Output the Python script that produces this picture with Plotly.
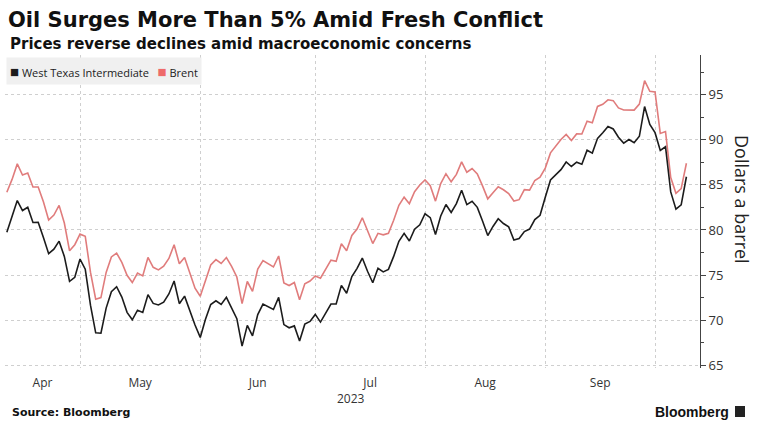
import numpy as np
import pandas as pd
import plotly.graph_objects as go

# ---------------- data ----------------
title = "Oil Surges More Than 5% Amid Fresh Conflict"
subtitle = "Prices reverse declines amid macroeconomic concerns"
source = "Source: Bloomberg"
brand = "Bloomberg"
y_title = "Dollars a barrel"
series_names = ["West Texas Intermediate", "Brent"]

start_date = "2023-04-11"
end_date = "2023-10-10"
missing_days = ["2023-05-30", "2023-06-20", "2023-07-05", "2023-09-05"]

wti = [
    # Apr
    79.74, 81.53, 83.26, 82.16, 82.52, 80.83, 80.86, 79.16, 77.37, 77.87,
    78.76, 77.07, 74.30, 74.76, 76.78,
    # May
    75.66, 71.66, 68.60, 68.56, 71.34, 73.16, 73.71, 72.56, 70.87, 70.04,
    71.11, 70.86, 72.83, 71.86, 71.69, 71.99, 72.91, 74.34, 71.83, 72.67,
    69.46, 68.09,
    # Jun
    70.10, 71.74, 72.15, 71.74, 72.53, 71.29, 70.17, 67.12, 69.42, 68.27,
    70.62, 71.78, 71.19, 72.53, 69.51, 69.16, 69.37, 67.70, 69.56, 69.86,
    70.64,
    # Jul
    69.79, 71.79, 71.80, 73.86, 72.99, 74.83, 75.75, 76.89, 75.42, 74.15,
    75.75, 75.35, 75.63, 77.07, 78.74, 79.63, 78.78, 80.09, 80.58, 81.80,
    # Aug
    81.37, 79.49, 81.55, 82.82, 81.94, 82.92, 84.40, 82.82, 83.19, 82.51,
    80.99, 79.38, 80.39, 81.25, 80.72, 80.35, 78.89, 79.05, 79.83, 80.10,
    81.16, 81.63, 83.63,
    # Sep
    85.55, 86.69, 87.54, 87.04, 87.51, 87.29, 88.84, 88.52, 90.16, 90.77,
    91.48, 91.20, 90.28, 89.63, 90.03, 89.68, 90.39, 93.68, 91.71, 90.79,
    # Oct
    88.82, 89.23, 84.22, 82.31, 82.79, 85.90,
]

brent = [
    # Apr
    84.18, 85.61, 87.33, 86.09, 86.31, 84.76, 84.77, 83.12, 81.10, 81.66,
    82.73, 80.77, 77.69, 78.37, 79.54,
    # May
    79.31, 75.32, 72.33, 72.50, 75.30, 77.01, 77.44, 76.41, 74.98, 74.17,
    75.23, 74.91, 76.96, 75.86, 75.58, 75.99, 76.84, 78.36, 76.26, 76.95,
    73.54, 72.66,
    # Jun
    74.28, 76.13, 76.71, 76.29, 76.95, 75.96, 74.79, 71.84, 74.29, 73.20,
    75.67, 76.61, 75.90, 77.12, 74.14, 73.85, 74.18, 72.26, 74.03, 74.34,
    74.90,
    # Jul
    74.65, 76.65, 76.52, 78.47, 77.69, 79.40, 80.11, 81.36, 79.87, 78.50,
    79.63, 79.46, 79.64, 81.07, 82.74, 83.64, 82.92, 84.24, 84.99, 85.56,
    # Aug
    84.91, 83.20, 85.14, 86.24, 85.34, 86.17, 87.55, 86.40, 86.81, 86.21,
    84.89, 83.45, 84.12, 84.80, 84.46, 84.03, 83.21, 83.36, 84.48, 84.42,
    85.49, 85.86, 86.86,
    # Sep
    88.55, 90.04, 90.60, 89.92, 90.65, 90.64, 92.06, 91.88, 93.70, 93.93,
    94.43, 94.34, 93.53, 93.30, 93.27, 93.29, 93.96, 96.55, 95.38, 95.31,
    # Oct
    90.71, 90.92, 85.81, 84.07, 84.58, 87.40,
]

month_starts = ["2023-05-01", "2023-06-01", "2023-07-01", "2023-08-01",
                "2023-09-01", "2023-10-01"]
month_labels = ["Apr", "May", "Jun", "Jul", "Aug", "Sep"]
year_label = "2023"
y_tick0, y_dtick = 65, 5

# ---------------- styles ----------------
wti_color = "#1c1c1c"
brent_color = "#e07c7c"
brent_key = "#ee6a6a"
grid_color = "#cfcfcf"
text_color = "#333333"

# ---------------- build x (trading-day axis) ----------------
dates = pd.bdate_range(start_date, end_date)
dates = dates[~dates.isin(pd.to_datetime(missing_days))]
base = np.datetime64(start_date, "D")
x = np.busday_count(base, dates.values.astype("datetime64[D]"))
grid_x = np.busday_count(base, np.array(month_starts, dtype="datetime64[D]"))

x_range = [-0.35, 132.6]
edges = [x_range[0]] + list(grid_x)
label_x = [(edges[i] + edges[i + 1]) / 2 for i in range(len(month_labels))]

fig = go.Figure()
fig.add_trace(go.Scatter(x=x, y=brent, mode="lines", name=series_names[1],
                         line=dict(color=brent_color, width=1.6), showlegend=False))
fig.add_trace(go.Scatter(x=x, y=wti, mode="lines", name=series_names[0],
                         line=dict(color=wti_color, width=1.6), showlegend=False))

fig.update_layout(
    width=758, height=433,
    margin=dict(l=5, r=58, t=55, b=65),
    paper_bgcolor="white", plot_bgcolor="white",
    font=dict(family="Open Sans, DejaVu Sans, sans-serif", color=text_color),
    title=dict(text=f"<b>{title}</b>", x=8 / 758, xanchor="left", xref="container",
               y=1 - 20 / 433, yanchor="middle", yref="container",
               font=dict(family="DejaVu Sans", size=21, color="#111111")),
)

fig.update_xaxes(
    range=x_range, tickmode="array", tickvals=label_x, ticktext=month_labels,
    ticks="", showgrid=False, showline=False, zeroline=False,
    tickfont=dict(size=12, color=text_color), ticklabelstandoff=6,
    minor=dict(tickmode="array", tickvals=list(grid_x), showgrid=True,
               gridcolor=grid_color, griddash="dot", gridwidth=1, ticks=""),
)
fig.update_yaxes(
    side="right", range=[64.7, 99.4], tick0=y_tick0, dtick=y_dtick,
    showline=True, linecolor="#444444", linewidth=1,
    ticks="outside", ticklen=5, tickcolor="#444444",
    showgrid=True, gridcolor=grid_color, griddash="dot", gridwidth=1,
    zeroline=False, tickfont=dict(size=13, color=text_color),
    minor=dict(tick0=y_tick0, dtick=y_dtick / 2, ticks="outside", ticklen=3,
               tickcolor="#444444", showgrid=False),
)

def px_x(px):
    return (px - 5) / 695

def px_y(py):
    return (368 - py) / 313

annotations = [
    dict(text=f"<b>{subtitle}</b>", xref="paper", yref="paper", x=px_x(8), y=px_y(44),
         xanchor="left", yanchor="middle", showarrow=False,
         font=dict(family="DejaVu Sans", size=15, color="#111111")),
    dict(text=(f'<span style="color:{wti_color};font-size:15px">■</span> {series_names[0]}   '
               f'<span style="color:{brent_key};font-size:15px">■</span> {series_names[1]}'),
         xref="paper", yref="paper", x=px_x(6), y=px_y(57),
         xanchor="left", yanchor="top", showarrow=False, bgcolor="#f0f0f0",
         borderpad=3, font=dict(family="Open Sans", size=11, color="#222222")),
    dict(text=y_title, xref="paper", yref="paper", x=px_x(742), y=px_y(200),
         xanchor="center", yanchor="middle", textangle=90, showarrow=False,
         font=dict(family="Open Sans", size=18, color="#222222")),
    dict(text=year_label, xref="x", yref="paper", x=label_x[3], y=0,
         xanchor="center", yanchor="middle", yshift=-30, xshift=-19, showarrow=False,
         font=dict(size=12, color=text_color)),
    dict(text=f"<b>{source}</b>", xref="paper", yref="paper", x=px_x(10), y=px_y(412),
         xanchor="left", yanchor="middle", showarrow=False,
         font=dict(family="DejaVu Sans", size=11, color="#111111")),
    dict(text=f"<b>{brand}</b>", xref="paper", yref="paper", x=px_x(731), y=px_y(412),
         xanchor="right", yanchor="middle", showarrow=False,
         font=dict(family="Liberation Sans", size=14, color="#111111")),
]
fig.update_layout(annotations=annotations)

fig.add_shape(type="rect", xref="paper", yref="paper",
              x0=px_x(735), x1=px_x(745), y0=px_y(417), y1=px_y(406),
              fillcolor="#222222", line=dict(width=0))

fig.write_html("out.html", config={"displayModeBar": False},
               post_script="document.body.style.margin='0';")
